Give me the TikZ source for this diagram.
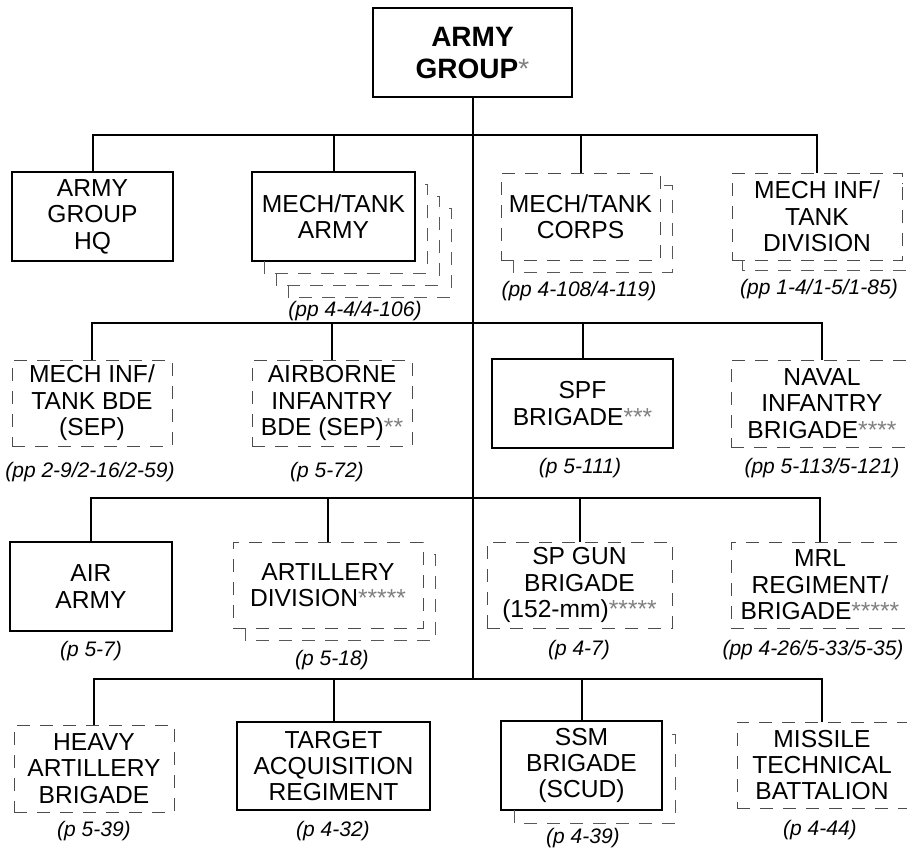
\documentclass[tikz,border=0pt]{standalone}
\usepackage{fontspec}
\setmainfont{Liberation Sans}
\usetikzlibrary{calc}

\begin{document}
\begin{tikzpicture}[x=0.5pt, y=-0.5pt,
    every node/.style={font=\fontsize{12.3}{13.2}\selectfont},
    unit/.style={draw, line width=1pt, align=center, inner sep=0pt, outer sep=0pt},
    dunit/.style={draw=black!70, line width=0.5pt, dash pattern=on 6.5pt off 5pt, align=center, inner sep=0pt, outer sep=0pt},
    shd/.style={draw=black!65, line width=0.5pt, dash pattern=on 6.5pt off 5pt},
    wh/.style 2 args={minimum width=#1pt, minimum height=#2pt},
    lnk/.style={line width=1pt},
    pg/.style={font=\fontsize{10.5}{12}\selectfont\itshape, inner sep=0pt}
]
\newcommand{\gstar}[1]{\textcolor{black!50}{#1}}
\newcommand{\stk}[3]{\draw[shd] ([shift={(#3pt,-#2pt)}]#1.south west) --
    ([shift={(#3pt,-#3pt)}]#1.south west) -- ([shift={(#3pt,-#3pt)}]#1.south east) --
    ([shift={(#3pt,-#3pt)}]#1.north east) -- ([shift={(#2pt,-#3pt)}]#1.north east);}

\useasboundingbox (0,0) rectangle (907,848);
\clip (0,0) rectangle (907,848);

\node[unit, wh={99.5}{44.5}, font=\fontsize{14}{16}\selectfont\bfseries] (ag) at (472.5,52.5) {ARMY\\GROUP\gstar{\mdseries*}};

\node[unit, wh={80.5}{44.5}] (hq) at (92.5,216.5) {ARMY\\GROUP\\HQ};
\node[unit, wh={81.5}{44.5}] (mta) at (333.5,216.5) {MECH/TANK\\ARMY};
\node[dunit, wh={79.5}{43.5}] (mtc) at (580.5,216.5) {MECH/TANK\\CORPS};
\node[dunit, wh={85}{43.5}] (mtd) at (817,216.5) {MECH INF/\\TANK\\DIVISION};

\node[dunit, wh={80}{43}] (mib) at (92,403) {MECH INF/\\TANK BDE\\(SEP)};
\node[dunit, wh={80}{43}] (abn) at (332,403) {AIRBORNE\\INFANTRY\\BDE (SEP)\gstar{**}};
\node[unit, wh={90.5}{44.5}] (spf) at (582.5,403.5) {SPF\\BRIGADE\gstar{***}};
\node[dunit, wh={91}{43.5}] (nib) at (822,403.5) {NAVAL\\INFANTRY\\BRIGADE\gstar{****}};

\node[unit, wh={81}{44.5}] (aa) at (91,586.5) {AIR\\ARMY};
\node[dunit, wh={95}{43}] (ad) at (328,585) {ARTILLERY\\DIVISION\gstar{*****}};
\node[dunit, wh={92.5}{43}] (spg) at (579.5,585) {SP GUN\\BRIGADE\\(152-mm)\gstar{*****}};
\node[dunit, wh={89}{43}] (mrl) at (820,585) {MRL\\REGIMENT/\\BRIGADE\gstar{*****}};

\node[dunit, wh={80}{43.5}] (hab) at (94,768.5) {HEAVY\\ARTILLERY\\BRIGADE};
\node[unit, wh={96.5}{44}] (tar) at (333.5,766) {TARGET\\ACQUISITION\\REGIMENT};
\node[unit, wh={80.5}{44.5}] (ssm) at (581.5,765.5) {SSM\\BRIGADE\\(SCUD)};
\node[dunit, wh={85}{43}] (mtb) at (822,765) {MISSILE\\TECHNICAL\\BATTALION};

\stk{mta}{0}{6} \stk{mta}{6}{12} \stk{mta}{12}{18}
\stk{mtc}{0}{6} \stk{mtd}{0}{5} \stk{ad}{0}{6} \stk{ssm}{0}{6.5}

\node[pg] (pmta) at (355,311) {(pp 4-4/4-106)};
\node[pg] (pmtc) at (579,291) {(pp 4-108/4-119)};
\node[pg] (pmtd) at (819,289) {(pp 1-4/1-5/1-85)};
\node[pg] (pmib) at (90,472) {(pp 2-9/2-16/2-59)};
\node[pg] (pabn) at (327,472) {(p 5-72)};
\node[pg] (pspf) at (580,468) {(p 5-111)};
\node[pg] (pnib) at (822,468) {(pp 5-113/5-121)};
\node[pg] (paa) at (91,651) {(p 5-7)};
\node[pg] (pad) at (332,660) {(p 5-18)};
\node[pg] (pspg) at (579,650) {(p 4-7)};
\node[pg] (pmrl) at (813,650) {(pp 4-26/5-33/5-35)};
\node[pg] (phab) at (94,831) {(p 5-39)};
\node[pg] (ptar) at (333,831) {(p 4-32)};
\node[pg] (pssm) at (583,838) {(p 4-39)};
\node[pg] (pmtb) at (820,830) {(p 4-44)};

\coordinate (r1) at (472.5,135);
\coordinate (r2) at (472.5,323);
\coordinate (r3) at (472.5,498);
\coordinate (r4) at (472.5,679);
\draw[lnk] (ag.south) -- (r4);
\foreach \n in {hq,mta,mtc,mtd} \draw[lnk] (r1) -| (\n.north);
\foreach \n in {mib,abn,spf,nib} \draw[lnk] (r2) -| (\n.north);
\foreach \n in {aa,ad,spg,mrl} \draw[lnk] (r3) -| (\n.north);
\foreach \n in {hab,tar,ssm,mtb} \draw[lnk] (r4) -| (\n.north);
\end{tikzpicture}
\end{document}
